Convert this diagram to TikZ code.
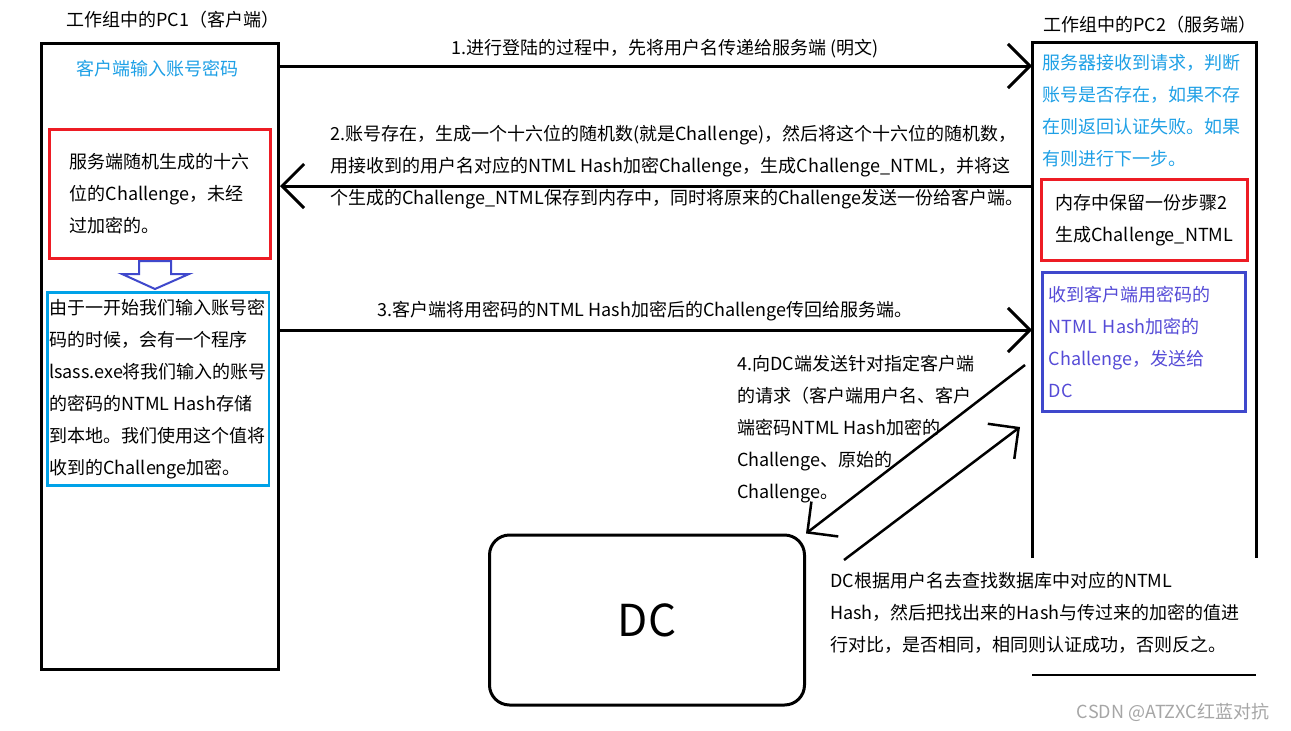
\documentclass[tikz,border=0pt]{standalone}
\usepackage{fontspec}
\setmainfont{Noto Sans CJK SC}
\usetikzlibrary{arrows.meta,positioning,calc}
\definecolor{boxred}{RGB}{237,28,36}
\definecolor{boxcyan}{RGB}{0,162,232}
\definecolor{boxblue}{RGB}{63,72,204}
\definecolor{txtcyan}{RGB}{30,160,230}
\definecolor{txtblue}{RGB}{85,75,215}

\begin{document}
\begin{tikzpicture}[x=1pt, y=-1pt,
    every node/.style={font=\fontsize{18pt}{32pt}\selectfont},
    pcbox/.style={draw, line width=3pt, anchor=north west},
    inbox/.style={draw, line width=2.5pt, anchor=north west, align=left},
    label/.style={align=left, inner sep=0pt},
    arrow/.style={-{Straight Barb[length=22pt,width=44pt]}, line width=3pt},
    dcarrow/.style={-{Straight Barb[length=22pt,width=44pt]}, line width=2.5pt}
]
\useasboundingbox[fill=white] (0,0) rectangle (1291,731);
% the two workgroup hosts
\node[label] (pc1title) at (173,20) {工作组中的PC1（客户端）};
\node[pcbox, minimum width=237pt, minimum height=626pt] (pc1) at (40,42) {};
\node[label] (pc2title) at (1150,25) {工作组中的PC2（服务端）};
\node[pcbox, draw=none, minimum width=221pt, minimum height=630pt] (pc2) at (1032,42) {};
\draw[line width=3pt] (pc2.south west |- 0,558) -- (pc2.north west) -- (pc2.north east)
  -- (pc2.south east |- 0,558);
\draw[line width=2.5pt] (pc2.south west) -- (pc2.south east);
% client side
\node[label, text=txtcyan] (input) at (157,69) {客户端输入账号密码};
\node[inbox, draw=boxred, minimum width=221pt, minimum height=129pt] (chal) at (48,128)
  {服务端随机生成的十六\\位的Challenge，未经\\过加密的。};
\draw[boxblue, line width=2pt] (139,261) -- (171,261) -- (171,274) -- (189,274)
  -- (155,289) -- (122,274) -- (139,274) -- cycle;
\node[inbox, draw=boxcyan, minimum width=219pt, minimum height=193pt, inner xsep=2pt] (lsass) at (46,291)
  {由于一开始我们输入账号密\\码的时候，会有一个程序\\lsass.exe将我们输入的账号\\的密码的NTML Hash存储\\到本地。我们使用这个值将\\收到的Challenge加密。};
% server side
\node[label, anchor=west, text=txtcyan] (check) at (1042,111)
  {服务器接收到请求，判断\\账号是否存在，如果不存\\在则返回认证失败。如果\\有则进行下一步。};
\node[inbox, draw=boxred, minimum width=206pt, minimum height=81pt] (keep) at (1040,178)
  {内存中保留一份步骤2\\生成Challenge\_NTML};
\node[inbox, draw=boxblue, text=txtblue, minimum width=203pt, minimum height=139pt,
  text width=190pt, inner xsep=5pt] (fwd) at (1041,271)
  {收到客户端用密码的\\NTML Hash加密的\\Challenge，发送给\\DC};
% domain controller
\node[draw, line width=3pt, rounded corners=20pt, minimum width=315pt, minimum height=170pt,
  font=\fontsize{44pt}{44pt}\selectfont] (dc) at (647,620) {DC};
\node[label, anchor=west] (verify) at (830,613)
  {DC根据用户名去查找数据库中对应的NTML\\Hash，然后把找出来的Hash与传过来的加密的值进\\行对比，是否相同，相同则认证成功，否则反之。};
% messages
\draw[arrow] (pc1.east |- 0,66) -- (pc2.west |- 0,66);
\node (step1) at (665,49) {1.进行登陆的过程中，先将用户名传递给服务端 (明文)};
\draw[arrow] (pc2.west |- 0,186) -- (pc1.east |- 0,186);
\node[label, anchor=west] (step2) at (330,167)
  {2.账号存在，生成一个十六位的随机数(就是Challenge)，然后将这个十六位的随机数，\\用接收到的用户名对应的NTML Hash加密Challenge，生成Challenge\_NTML，并将这\\个生成的Challenge\_NTML保存到内存中，同时将原来的Challenge发送一份给客户端。};
\draw[arrow] (pc1.east |- 0,330) -- (pc2.west |- 0,330);
\node (step3) at (645,311) {3.客户端将用密码的NTML Hash加密后的Challenge传回给服务端。};
\coordinate (req) at (1025,365);
\coordinate (back) at (844,560);
\coordinate (back end) at (1020,427);
\draw[dcarrow] (req) -- (dc.north east);
\draw[dcarrow] (back) -- (back end);
\node[label, anchor=west] (step4) at (737,429)
  {4.向DC端发送针对指定客户端\\的请求（客户端用户名、客户\\端密码NTML Hash加密的\\Challenge、原始的\\Challenge。};
\node[text=gray!70, font=\fontsize{18pt}{18pt}\selectfont] (mark) at (1173,712) {CSDN @ATZXC红蓝对抗};
\end{tikzpicture}
\end{document}
